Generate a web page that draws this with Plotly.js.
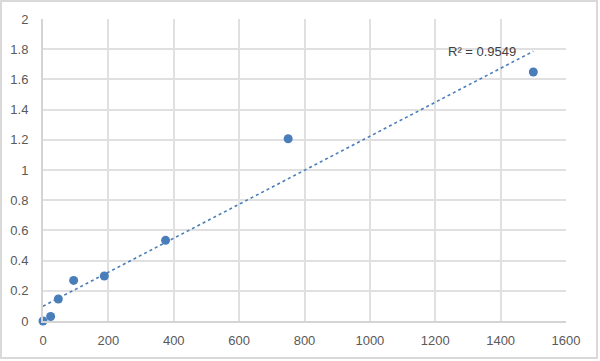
<!DOCTYPE html>
<html>
<head>
<meta charset="utf-8">
<script src="https://cdn.plot.ly/plotly-3.0.1.min.js"></script>
<style>html,body{margin:0;padding:0;background:#fff;}#chart{width:600px;height:361px;}</style>
</head>
<body>
<div id="chart"></div>
<script>
// Data
const concentration = [0, 23.4, 46.9, 93.75, 187.5, 375, 750, 1500];
const absorbance = [0.0, 0.03, 0.146, 0.269, 0.298, 0.534, 1.207, 1.649];
const xTicks = [0, 200, 400, 600, 800, 1000, 1200, 1400, 1600];
const yTicks = [0, 0.2, 0.4, 0.6, 0.8, 1, 1.2, 1.4, 1.6, 1.8, 2];
const r2Label = 'R\u00b2 = 0.9549';

// Linear least-squares trendline computed from the data
const n = concentration.length;
const mx = concentration.reduce((a, b) => a + b, 0) / n;
const my = absorbance.reduce((a, b) => a + b, 0) / n;
let sxy = 0, sxx = 0;
for (let i = 0; i < n; i++) {
  sxy += (concentration[i] - mx) * (absorbance[i] - my);
  sxx += (concentration[i] - mx) ** 2;
}
const slope = sxy / sxx;
const intercept = my - slope * mx;
const xMin = Math.min(...concentration), xMax = Math.max(...concentration);
const trendX = [xMin, xMax];
const trendY = trendX.map(x => intercept + slope * x);

const blue = '#4a7ebb';
const W = 600, H = 361;
const margin = {l: 43, r: 34, t: 19, b: 40};
const pw = W - margin.l - margin.r, ph = H - margin.t - margin.b;
const px = v => (v - margin.l) / pw;
const py = v => 1 - (v - margin.t) / ph;

const traces = [
  {
    x: trendX, y: trendY, mode: 'lines', type: 'scatter',
    line: {color: blue, width: 1.6, dash: 'dot'},
    hoverinfo: 'skip', showlegend: false, cliponaxis: false
  },
  {
    x: concentration, y: absorbance, mode: 'markers', type: 'scatter',
    marker: {color: blue, size: 9, line: {width: 0}},
    showlegend: false, cliponaxis: false
  }
];

const font = {family: 'Liberation Sans, Arial, sans-serif', size: 13, color: '#595959'};

const layout = {
  width: W, height: H,
  margin: margin,
  paper_bgcolor: '#ffffff', plot_bgcolor: '#ffffff',
  font: font,
  showlegend: false,
  xaxis: {
    range: [0, 1600], tickvals: xTicks, ticktext: xTicks.map(String),
    showgrid: true, gridcolor: '#e0e0e0', gridwidth: 2,
    zeroline: false, showline: true, linecolor: '#d4d4d4', linewidth: 2,
    ticks: 'outside', ticklen: 6, tickcolor: 'rgba(0,0,0,0)',
    tickfont: font, fixedrange: true
  },
  yaxis: {
    range: [0, 2], tickvals: yTicks, ticktext: yTicks.map(String),
    showgrid: true, gridcolor: '#e0e0e0', gridwidth: 2,
    zeroline: false, showline: true, linecolor: '#d4d4d4', linewidth: 2,
    ticks: 'outside', ticklen: 10, tickcolor: 'rgba(0,0,0,0)',
    tickfont: font, fixedrange: true
  },
  annotations: [{
    x: 1453, y: 1.785, xref: 'x', yref: 'y',
    text: r2Label, showarrow: false, xanchor: 'right', yanchor: 'middle',
    font: {family: 'Liberation Sans, Arial, sans-serif', size: 13, color: '#404040'}
  }],
  shapes: [{
    type: 'rect', xref: 'paper', yref: 'paper',
    x0: px(1), x1: px(597), y0: py(1), y1: py(358),
    line: {color: '#d9d9d9', width: 2}, layer: 'below'
  }]
};

Plotly.newPlot('chart', traces, layout, {displayModeBar: false, staticPlot: true});
</script>
</body>
</html>
